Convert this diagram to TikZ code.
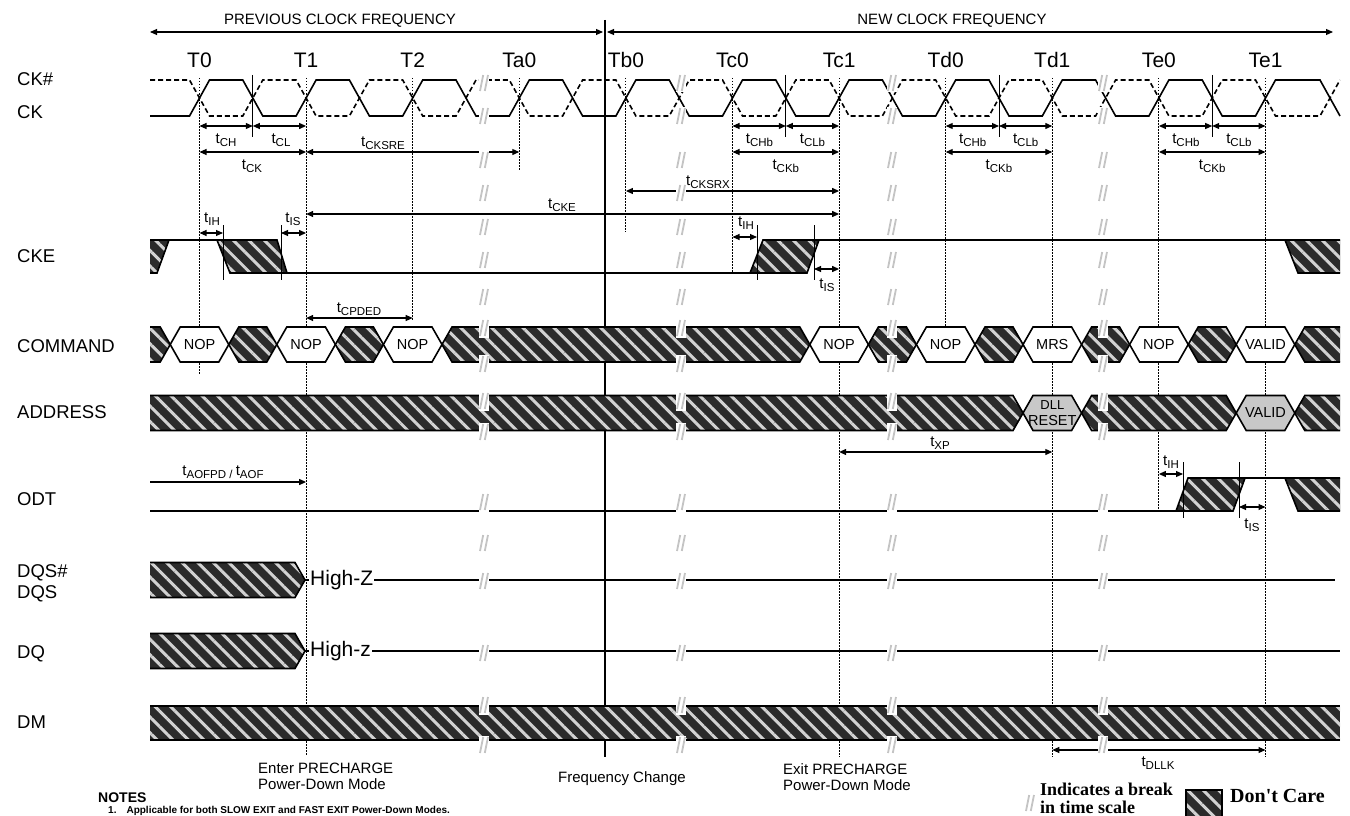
\documentclass[tikz,border=0pt]{standalone}
\usepackage{fontspec}
\setmainfont{Liberation Sans}
\newfontfamily\legendfont{Liberation Serif}
\usetikzlibrary{arrows.meta, patterns.meta}

\definecolor{dcbg}{HTML}{2B2B2B}
\definecolor{dcfg}{HTML}{D2D2D2}
\definecolor{brkgray}{HTML}{C4C4C4}
\definecolor{valgray}{HTML}{C8C8C8}

% timing parameter label: t with lowered index
\newcommand{\tlab}[1]{{\fontsize{15}{15}\selectfont t}\raisebox{-2.5pt}{\fontsize{11.5}{12}\selectfont #1}}

% bus value with pointed ends
\newcommand{\busseg}[6]{%
  \draw[#1] (#3,#5) -- ({#3+10},{#5-17.5}) -- ({#4-10},{#5-17.5}) -- (#4,#5)
    -- ({#4-10},{#5+17.5}) -- ({#3+10},{#5+17.5}) -- cycle;
  \node[bustext] (#2) at ({(#3+#4)/2},#5) {#6};}
% don't care with pointed ends
\newcommand{\dcseg}[3]{%
  \draw[dc, wave] (#1,#3) -- ({#1+10},{#3-17.5}) -- ({#2-10},{#3-17.5}) -- (#2,#3)
    -- ({#2-10},{#3+17.5}) -- ({#1+10},{#3+17.5}) -- cycle;}
% don't care from the left end
\newcommand{\dcleft}[2]{%
  \path[dc] (150,{#2-17.5}) -- ({#1-10},{#2-17.5}) -- (#1,#2) -- ({#1-10},{#2+17.5}) -- (150,{#2+17.5}) -- cycle;
  \draw[wave] (150,{#2-17.5}) -- ({#1-10},{#2-17.5}) -- (#1,#2) -- ({#1-10},{#2+17.5}) -- (150,{#2+17.5});}
% don't care up to the right end
\newcommand{\dcright}[2]{%
  \path[dc] (1340,{#2-17.5}) -- ({#1+10},{#2-17.5}) -- (#1,#2) -- ({#1+10},{#2+17.5}) -- (1340,{#2+17.5}) -- cycle;
  \draw[wave] (1340,{#2-17.5}) -- ({#1+10},{#2-17.5}) -- (#1,#2) -- ({#1+10},{#2+17.5}) -- (1340,{#2+17.5});}

\begin{document}
\begin{tikzpicture}[
    x=1pt, y=-1pt,
    wave/.style={line width=1.6pt},
    dc/.style={preaction={fill=dcbg}, pattern={Lines[angle=-45,distance=11pt,line width=3pt]}, pattern color=dcfg},
    guide/.style={line width=0.9pt, dash pattern=on 1.5pt off 1.5pt},
    tickline/.style={line width=0.9pt},
    dim/.style={{Triangle[length=7pt,width=6pt]}-{Triangle[length=7pt,width=6pt]}, line width=1.1pt},
    dimto/.style={-{Triangle[length=7pt,width=6pt]}, line width=1.1pt},
    sig/.style={font=\fontsize{18.5}{20}\selectfont, anchor=base west, inner sep=0pt},
    edgelbl/.style={font=\fontsize{21}{22}\selectfont, anchor=base, inner sep=0pt},
    hdr/.style={font=\fontsize{15}{16}\selectfont, anchor=base, inner sep=0pt},
    tl/.style={inner sep=0pt},
    bustext/.style={font=\fontsize{14.5}{16}\selectfont, inner sep=0pt, align=center},
    mode/.style={font=\fontsize{15}{16}\selectfont, align=left, inner sep=0pt},
    legend/.style={font=\legendfont\bfseries\fontsize{18}{20}\selectfont, anchor=base west, inner sep=0pt},
    brk/.pic={
      \fill[white] (-5,-9.5) rectangle (5,9.5);
      \draw[brkgray, line width=1.8pt] (-4,8) -- (-0.8,-8);
      \draw[brkgray, line width=1.8pt] (0.8,8) -- (4,-8);
    }
]
    \useasboundingbox (0,0) rectangle (1350,816);
    \clip (0,0) rectangle (1350,816);

    % clock edges
    \foreach \nm [count=\i from 0] in {T0,T1,T2,Ta0,Tb0,Tc0,Tc1,Td0,Td1,Te0,Te1} {
        \coordinate (\nm) at ({199.5+106.6*\i},0);
        \node[edgelbl] (lbl\nm) at (\nm|-0,67) {\nm};
    }
    \foreach \nm/\ye in {T0/375,T1/755,T2/320,Ta0/170,Tb0/232,Tc0/272,Tc1/757,Td0/327,Td1/757,Te0/510,Te1/757}
        \draw[guide] (\nm|-0,78) -- (\nm|-0,\ye);

    % clock frequency ranges
    \node[hdr] (prevlbl) at (340,25) {PREVIOUS CLOCK FREQUENCY};
    \node[hdr] (newlbl) at (952,25) {NEW CLOCK FREQUENCY};
    \coordinate (prevL) at (150,32);
    \coordinate (prevR) at (603,32);
    \coordinate (newL) at (607,32);
    \coordinate (newR) at (1333,32);
    \draw[dim] (prevL) -- (prevR);
    \draw[dim] (newL) -- (newR);
    \coordinate (fcTop) at (605,20);
    \coordinate (fcBot) at (605,757);
    \draw[line width=1.8pt] (fcTop) -- (fcBot);

    % signal names
    \node[sig] (sCKn) at (17,85) {CK\#};
    \node[sig] (sCK) at (17,118) {CK};
    \node[sig] (sCKE) at (17,262) {CKE};
    \node[sig] (sCMD) at (17,352) {COMMAND};
    \node[sig] (sADDR) at (17,418) {ADDRESS};
    \node[sig] (sODT) at (17,505) {ODT};
    \node[sig] (sDQSn) at (17,577) {DQS\#};
    \node[sig] (sDQS) at (17,598) {DQS};
    \node[sig] (sDQ) at (17,658) {DQ};
    \node[sig] (sDM) at (17,728) {DM};

    % CK and CK#
    \draw[wave] (150,116) foreach \i in {0,...,9} {
        -- ({189.5+106.6*\i},116) -- ({209.5+106.6*\i},80) -- ({242.8+106.6*\i},80) -- ({262.8+106.6*\i},116)
    } -- (1255.5,116) -- (1275.5,80) -- (1320,80) -- (1340,116);
    \draw[wave, dash pattern=on 5pt off 3pt] (150,80) foreach \i in {0,...,9} {
        -- ({189.5+106.6*\i},80) -- ({209.5+106.6*\i},116) -- ({242.8+106.6*\i},116) -- ({262.8+106.6*\i},80)
    } -- (1255.5,80) -- (1275.5,116) -- (1320,116) -- (1340,80);

    % CKE
    \path[dc] (150,240) -- (169,240) -- (157,273) -- (150,273) -- cycle;
    \path[dc] (217,240) -- (277,240) -- (287,273) -- (230,273) -- cycle;
    \path[dc] (750,273) -- (763,240) -- (819,240) -- (807,273) -- cycle;
    \path[dc] (1285,240) -- (1340,240) -- (1340,273) -- (1298,273) -- cycle;
    \draw[wave] (150,273) -- (157,273) -- (169,240) -- (277,240) -- (287,273) -- (750,273) -- (763,240) -- (1340,240);
    \draw[wave] (150,240) -- (169,240);
    \draw[wave] (217,240) -- (230,273) -- (287,273);
    \draw[wave] (750,273) -- (807,273) -- (819,240);
    \draw[wave] (1285,240) -- (1298,273) -- (1340,273);

    % COMMAND
    \dcleft{170.2}{344.5}
    \busseg{wave, fill=white}{cmdA}{170.2}{228.8}{344.5}{NOP}
    \dcseg{228.8}{276.8}{344.5}
    \busseg{wave, fill=white}{cmdB}{276.8}{335.4}{344.5}{NOP}
    \dcseg{335.4}{383.4}{344.5}
    \busseg{wave, fill=white}{cmdC}{383.4}{442}{344.5}{NOP}
    \dcseg{442}{809.8}{344.5}
    \busseg{wave, fill=white}{cmdD}{809.8}{868.4}{344.5}{NOP}
    \dcseg{868.4}{916.4}{344.5}
    \busseg{wave, fill=white}{cmdE}{916.4}{975}{344.5}{NOP}
    \dcseg{975}{1023}{344.5}
    \busseg{wave, fill=white}{cmdF}{1023}{1081.6}{344.5}{MRS}
    \dcseg{1081.6}{1129.6}{344.5}
    \busseg{wave, fill=white}{cmdG}{1129.6}{1188.2}{344.5}{NOP}
    \dcseg{1188.2}{1236.2}{344.5}
    \busseg{wave, fill=white}{cmdH}{1236.2}{1294.8}{344.5}{VALID}
    \dcright{1294.8}{344.5}

    % ADDRESS
    \dcleft{1023}{413}
    \busseg{wave, fill=valgray}{addrA}{1023}{1081.6}{413}{\fontsize{13}{14}\selectfont DLL\\RESET}
    \dcseg{1081.6}{1236.2}{413}
    \busseg{wave, fill=valgray}{addrB}{1236.2}{1294.8}{413}{VALID}
    \dcright{1294.8}{413}

    % ODT
    \path[dc] (1176,511) -- (1188,478) -- (1245,478) -- (1233,511) -- cycle;
    \path[dc] (1285,478) -- (1340,478) -- (1340,511) -- (1298,511) -- cycle;
    \draw[wave] (150,511) -- (1176,511) -- (1188,478) -- (1340,478);
    \draw[wave] (1176,511) -- (1233,511) -- (1245,478);
    \draw[wave] (1285,478) -- (1298,511) -- (1340,511);

    % DQS, DQ
    \dcleft{305}{580}
    \node[font=\fontsize{21}{22}\selectfont, inner sep=1pt, anchor=west] (hzDQS) at (309,580) {High-Z};
    \draw[wave] (305,580) -- (hzDQS.west);
    \draw[wave] (hzDQS.east) -- (1335,580);
    \dcleft{305}{651}
    \node[font=\fontsize{21}{22}\selectfont, inner sep=1pt, anchor=west] (hzDQ) at (309,651) {High-z};
    \draw[wave] (305,651) -- (hzDQ.west);
    \draw[wave] (hzDQ.east) -- (1340,651);

    % DM
    \path[dc] (150,706) rectangle (1340,740);
    \draw[wave] (150,706) -- (1340,706);
    \draw[wave] (150,740) -- (1340,740);

    % reference ticks
    \foreach \x in {252.8,785.8,999,1212.2}
        \draw[tickline] (\x,75) -- (\x,137);
    \foreach \x in {223,281,757,814}
        \draw[tickline] (\x,225) -- (\x,280);
    \foreach \x in {1183,1239}
        \draw[tickline] (\x,462) -- (\x,518);

    % clock timing
    \draw[dim] (T0|-0,126) -- (252.8,126);
    \draw[dim] (252.8,126) -- (T1|-0,126);
    \draw[dim] (T0|-0,152) -- (T1|-0,152);
    \draw[dim] (T1|-0,152) -- (Ta0|-0,152);
    \node[tl] (lCH) at (226,140) {\tlab{CH}};
    \node[tl] (lCL) at (281,140) {\tlab{CL}};
    \node[tl] (lCK) at (252,166) {\tlab{CK}};
    \node[tl] (lCKSRE) at (383,143) {\tlab{CKSRE}};
    \foreach \xa [count=\k] in {732.5,945.7,1158.9} {
        \draw[dim] (\xa,126) -- ({\xa+53.3},126);
        \draw[dim] ({\xa+53.3},126) -- ({\xa+106.6},126);
        \draw[dim] (\xa,152) -- ({\xa+106.6},152);
        \node[tl] (lCHb\k) at ({\xa+27},140) {\tlab{CHb}};
        \node[tl] (lCLb\k) at ({\xa+80},140) {\tlab{CLb}};
        \node[tl] (lCKb\k) at ({\xa+53.3},166) {\tlab{CKb}};
    }

    % CKE timing
    \draw[dim] (Tb0|-0,191) -- (Tc1|-0,191);
    \node[tl] (lCKSRX) at (708,182) {\tlab{CKSRX}};
    \draw[dim] (T1|-0,214) -- (Tc1|-0,214);
    \node[tl] (lCKE) at (562,205) {\tlab{CKE}};
    \draw[dim] (T0|-0,233) -- (223,233);
    \node[tl] (lIHa) at (212,219) {\tlab{IH}};
    \draw[dim] (281,233) -- (T1|-0,233);
    \node[tl] (lISa) at (293,219) {\tlab{IS}};
    \draw[dim] (Tc0|-0,237) -- (757,237);
    \node[tl] (lIHb) at (746,223) {\tlab{IH}};
    \draw[dim] (814,269) -- (Tc1|-0,269);
    \node[tl] (lISb) at (827,285) {\tlab{IS}};
    \draw[dim] (T1|-0,318) -- (T2|-0,318);
    \node[tl] (lCPDED) at (359,309) {\tlab{CPDED}};

    % ODT timing
    \draw[dimto] (150,482) -- (T1|-0,482);
    \node[tl] (lAOF) at (223,472) {\tlab{AOFPD / }\tlab{AOF}};
    \draw[dim] (Tc1|-0,452) -- (Td1|-0,452);
    \node[tl] (lXP) at (940,443) {\tlab{XP}};
    \draw[dim] (Te0|-0,474) -- (1183,474);
    \node[tl] (lIHc) at (1171,462) {\tlab{IH}};
    \draw[dim] (1239,507) -- (Te1|-0,507);
    \node[tl] (lISc) at (1252,525) {\tlab{IS}};
    \draw[dim] (Td1|-0,750) -- (Te1|-0,750);
    \node[tl] (lDLLK) at (1158,763) {\tlab{DLLK}};

    % mode annotations
    \node[mode, anchor=north west] (enterPD) at (258,763) {Enter PRECHARGE\\Power-Down Mode};
    \node[mode, anchor=base] (fchange) at (622,782) {Frequency Change};
    \node[mode, anchor=north west] (exitPD) at (783,763) {Exit PRECHARGE\\Power-Down Mode};

    % breaks in time scale
    \foreach \bx in {484,681,892,1103}
        \foreach \by in {83,116,160,193,227,260,297,328,364,401,432,502,543,581,653,705,745}
            \pic at (\bx,\by) {brk};

    % notes and legend
    \node[font=\bfseries\fontsize{14}{15}\selectfont, anchor=base west, inner sep=0pt] (notes) at (98,802) {NOTES};
    \node[font=\bfseries\fontsize{10}{11}\selectfont, anchor=base west, inner sep=0pt] (note1) at (108,813) {1.\quad Applicable for both SLOW EXIT and FAST EXIT Power-Down Modes.};
    \pic at (1030,803) {brk};
    \node[legend] (brkA) at (1040,795) {Indicates a break};
    \node[legend] (brkB) at (1040,813) {in time scale};
    \draw[dc, line width=1.2pt] (1186,790) rectangle (1222,826);
    \node[legend, font=\legendfont\bfseries\fontsize{20}{22}\selectfont] (dcA) at (1230,802) {Don't Care};
\end{tikzpicture}
\end{document}
